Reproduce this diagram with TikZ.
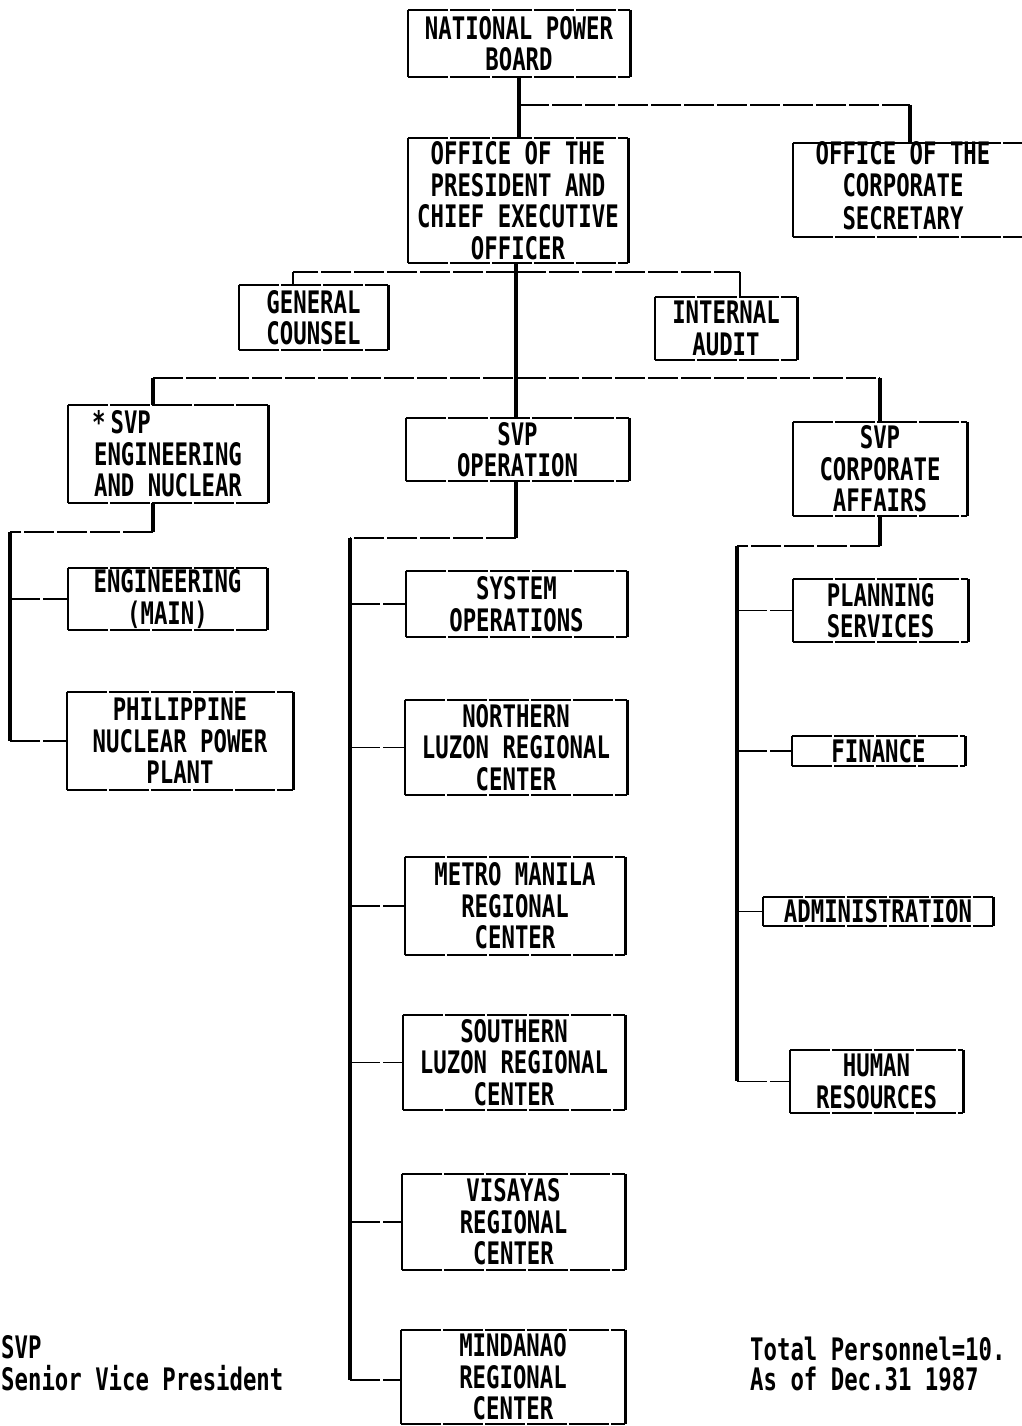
\documentclass[tikz,border=0pt]{standalone}
\usepackage{fontspec}
\newfontfamily\dm[FakeStretch=0.72]{DejaVu Sans Mono}
\begin{document}
\begin{tikzpicture}[x=1pt,y=-1pt,
  bx/.style={inner sep=0pt, align=center, font=\dm\bfseries\fontsize{31}{31.5}\selectfont},
  txt/.style={inner sep=0pt, font=\dm\bfseries\fontsize{31}{31.5}\selectfont},
  vl/.style={line width=3.2pt},
  hl/.style={line width=1.5pt, dash pattern=on 30pt off 3pt},
  sideln/.style={line width=2.6pt},
  edgeln/.style={line width=1.7pt, dash pattern=on 40pt off 2pt}]
\useasboundingbox[fill=white] (0,0) rectangle (1022,1426);
% boxes
\node[bx, minimum width=222, minimum height=67] (npb) at (519,43.5) {NATIONAL POWER\\BOARD};
\node[bx, minimum width=220, minimum height=125] (opceo) at (518,200.5) {OFFICE OF THE\\PRESIDENT AND\\CHIEF EXECUTIVE\\OFFICER};
\node[bx, minimum width=237, minimum height=94] (cs) at (911.5,190) {};
\node[txt] (cst) at (903,190) {\begin{tabular}{@{}c@{}}OFFICE OF THE\\CORPORATE\\SECRETARY\end{tabular}};
\node[bx, minimum width=149, minimum height=65] (gc) at (313.5,317.5) {GENERAL\\COUNSEL};
\node[bx, minimum width=142, minimum height=63] (ia) at (726,328.5) {INTERNAL\\AUDIT};
\node[bx, minimum width=200, minimum height=98] (sveng) at (168,454) {\makebox[152pt][l]{*\,SVP}\\ENGINEERING\\AND NUCLEAR};
\node[bx, minimum width=223, minimum height=63] (svop) at (517.5,449.5) {SVP\\OPERATION};
\node[bx, minimum width=174, minimum height=94] (svca) at (880,469) {SVP\\CORPORATE\\AFFAIRS};
\node[bx, minimum width=199, minimum height=62] (eng) at (167.5,599) {ENGINEERING\\(MAIN)};
\node[bx, minimum width=226, minimum height=98] (pnpp) at (180,741) {PHILIPPINE\\NUCLEAR POWER\\PLANT};
\node[bx, minimum width=221, minimum height=66] (sysop) at (516.5,604) {SYSTEM\\OPERATIONS};
\node[bx, minimum width=222, minimum height=95] (nl) at (516,747.5) {NORTHERN\\LUZON REGIONAL\\CENTER};
\node[bx, minimum width=220, minimum height=98] (mm) at (515,906) {METRO MANILA\\REGIONAL\\CENTER};
\node[bx, minimum width=222, minimum height=95] (sl) at (514,1062.5) {SOUTHERN\\LUZON REGIONAL\\CENTER};
\node[bx, minimum width=223, minimum height=96] (vis) at (513.5,1222) {VISAYAS\\REGIONAL\\CENTER};
\node[bx, minimum width=224, minimum height=94] (mind) at (513,1377) {MINDANAO\\REGIONAL\\CENTER};
\node[bx, minimum width=175, minimum height=63] (ps) at (880.5,610.5) {PLANNING\\SERVICES};
\node[bx, minimum width=173, minimum height=30] (fin) at (878.5,751) {FINANCE};
\node[bx, minimum width=230, minimum height=29] (adm) at (878,911.5) {ADMINISTRATION};
\node[bx, minimum width=173, minimum height=63] (hr) at (876.5,1081.5) {HUMAN\\RESOURCES};
% frames
\foreach \n in {npb,opceo,cs,gc,ia,sveng,svop,svca,eng,pnpp,sysop,nl,mm,sl,vis,mind,ps,fin,adm,hr}{
  \draw[edgeln] (\n.north west) -- (\n.north east) (\n.south west) -- (\n.south east);
  \draw[sideln] (\n.north west) -- (\n.south west) (\n.north east) -- (\n.south east);
}
% footnotes
\node[txt, anchor=base west] (fn1) at (1,1358) {SVP};
\node[txt, anchor=base west] (fn2) at (1,1390) {Senior Vice President};
\node[txt, anchor=base west] (tp1) at (750,1360) {Total Personnel=10.};
\node[txt, anchor=base west] (tp2) at (750,1390) {As of Dec.31 1987};
% junctions
\coordinate (j1) at (519,105);
\coordinate (j1r) at (910,105);
\coordinate (j2) at (516,272);
\coordinate (j2l) at (293,272);
\coordinate (j2r) at (740,272);
\coordinate (j3) at (516,378);
\coordinate (j3l) at (153,378);
\coordinate (j3r) at (880,378);
\coordinate (e1) at (153,532);
\coordinate (e2) at (10,532);
\coordinate (e3) at (10,741);
\coordinate (o1) at (516,538);
\coordinate (o2) at (350,538);
\coordinate (o3) at (350,1380);
\coordinate (c1) at (880,546);
\coordinate (c2) at (737,546);
\coordinate (c3) at (737,1081);
% top
\draw[vl] (npb.south) -- (npb.south |- opceo.north);
\draw[hl] (j1) -- (j1r);
\draw[vl] (j1r) -- (j1r |- cs.north);
\draw[vl] (opceo.south -| j2) -- (j2 |- svop.north);
\draw[hl] (j2) -- (j2l);
\draw[sideln] (j2l) -- (j2l |- gc.north);
\draw[hl] (j2) -- (j2r);
\draw[sideln] (j2r) -- (j2r |- ia.north);
\draw[hl] (j3l) -- (j3r);
\draw[vl] (j3l) -- (j3l |- sveng.north);
\draw[vl] (j3r) -- (j3r |- svca.north);
% engineering branch
\draw[vl] (e1 |- sveng.south) -- (e1);
\draw[hl] (e1) -- (e2);
\draw[vl] (e2) -- (e3);
\draw[hl] (e2 |- eng.west) -- (eng.west);
\draw[hl] (e3) -- (pnpp.west);
% operation branch
\draw[vl] (o1 |- svop.south) -- (o1);
\draw[hl] (o1) -- (o2);
\draw[vl] (o2) -- (o3);
\foreach \n in {sysop,nl,mm,sl,vis}{\draw[hl] (o2 |- \n.west) -- (\n.west);}
\draw[hl] (o3) -- (o3 -| mind.west);
% corporate affairs branch
\draw[vl] (c1 |- svca.south) -- (c1);
\draw[hl] (c1) -- (c2);
\draw[vl] (c2) -- (c3);
\foreach \n in {ps,fin,adm,hr}{\draw[hl] (c2 |- \n.west) -- (\n.west);}
\end{tikzpicture}
\end{document}
